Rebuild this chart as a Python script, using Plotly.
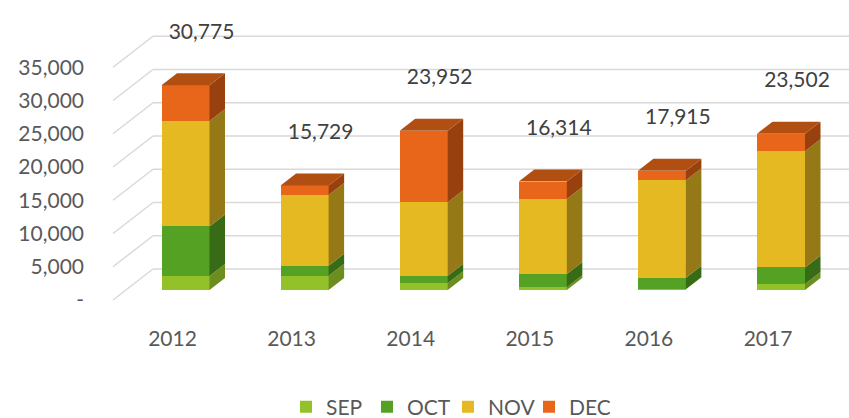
import plotly.graph_objects as go

years = ["2012", "2013", "2014", "2015", "2016", "2017"]
months = ["SEP", "OCT", "NOV", "DEC"]
sep = [2100, 2150, 1000, 400, 100, 900]
oct_ = [7450, 1500, 1150, 2000, 1750, 2500]
nov = [15850, 10650, 11050, 11300, 14650, 17450]
dec = [5375, 1429, 10752, 2614, 1415, 2652]
totals = [30775, 15729, 23952, 16314, 17915, 23502]
tick_vals = [0, 5000, 10000, 15000, 20000, 25000, 30000, 35000]
tick_text = ["-", "5,000", "10,000", "15,000", "20,000", "25,000", "30,000", "35,000"]

series = [sep, oct_, nov, dec]
front_colors = ["#92C12A", "#55A123", "#E5B921", "#E86619"]
side_colors = ["#6C8E1E", "#376B16", "#947916", "#98410F"]
top_color = "#B14F12"

# ---- geometry (pixels -> data units) ----
W, H = 849, 418
ml, mr, mt, mb = 85, 0, 10, 94
k = 0.00665          # px per value unit
cat_px = 119.1       # px per category
x0_px = 185.5        # px of first bar centre
y0_px = 290          # px of value 0 at bar front
xr = [(ml - x0_px) / cat_px, (W - mr - x0_px) / cat_px]
yr = [-(H - mb - y0_px) / k, (y0_px - mt) / k]

hw = 24 / cat_px
ddx, ddy = 15.5 / cat_px, 12 / k
fx, fy = -13 / cat_px, -10 / k      # front floor offset
bx, by = 27 / cat_px, 21 / k        # back wall offset
xL = (113 - x0_px) / cat_px

fig = go.Figure()

shapes = []
for v in tick_vals:
    shapes.append(dict(type="line", xref="x", yref="y", layer="below",
                       x0=xL, y0=v + fy, x1=xL + (bx - fx), y1=v + by,
                       line=dict(color="#D9D9D9", width=1.5)))
    shapes.append(dict(type="line", xref="x", yref="y", layer="below",
                       x0=xL + (bx - fx), y0=v + by, x1=xr[1], y1=v + by,
                       line=dict(color="#D9D9D9", width=1.5)))

xs = list(range(len(years)))

for name, vals, col in zip(months, series, front_colors):
    fig.add_trace(go.Bar(x=xs, y=vals, name=name, width=2 * hw,
                         marker=dict(color=col, line=dict(width=0)),
                         hoverinfo="skip"))

for i, xc in enumerate(xs):
    base = 0
    for si, vals in enumerate(series):
        t = base + vals[i]
        if vals[i] > 0:
            px = [xc + hw, xc + hw + ddx, xc + hw + ddx, xc + hw, xc + hw]
            py = [base, base + ddy, t + ddy, t, base]
            fig.add_trace(go.Scatter(x=px, y=py, fill="toself", mode="lines",
                                     line=dict(width=0, color=side_colors[si]),
                                     fillcolor=side_colors[si], showlegend=False,
                                     hoverinfo="skip"))
        base = t
    T = base
    px = [xc - hw, xc - hw + ddx, xc + hw + ddx, xc + hw, xc - hw]
    py = [T, T + ddy, T + ddy, T, T]
    fig.add_trace(go.Scatter(x=px, y=py, fill="toself", mode="lines",
                             line=dict(width=0, color=top_color),
                             fillcolor=top_color, showlegend=False, hoverinfo="skip"))

fig.add_trace(go.Scatter(x=[x + 16 / cat_px for x in xs], y=[t + 52 / k for t in totals],
                         mode="text", text=[f"{t:,}" for t in totals],
                         textposition="middle center",
                         textfont=dict(family="Lato", size=21, color="#404040"),
                         showlegend=False, hoverinfo="skip"))

fig.update_layout(
    width=W, height=H, barmode="stack", bargap=0,
    margin=dict(l=ml, r=mr, t=mt, b=mb, autoexpand=False),
    plot_bgcolor="white", paper_bgcolor="white",
    shapes=shapes,
    font=dict(family="Lato", size=21, color="#595959"),
    xaxis=dict(range=xr, showgrid=False, zeroline=False, showline=False,
               tickvals=[x + fx for x in xs], ticktext=years, ticks="",
               fixedrange=True, automargin=False),
    yaxis=dict(range=yr, showgrid=False, zeroline=False, showline=False,
               tickvals=[v + fy for v in tick_vals], ticktext=tick_text, ticks="",
               fixedrange=True, automargin=False),
    legend=dict(orientation="h", x=(286 - ml) / (W - ml - mr), xanchor="left",
                y=(H - mb - 407) / (H - mt - mb), yanchor="middle",
                font=dict(size=21, color="#595959"),
                itemwidth=30, entrywidth=36, traceorder="normal"),
    hovermode=False,
)

fig.write_html("out.html", config={"displayModeBar": False},
               post_script="document.body.style.margin='0';document.body.style.overflow='hidden';")
